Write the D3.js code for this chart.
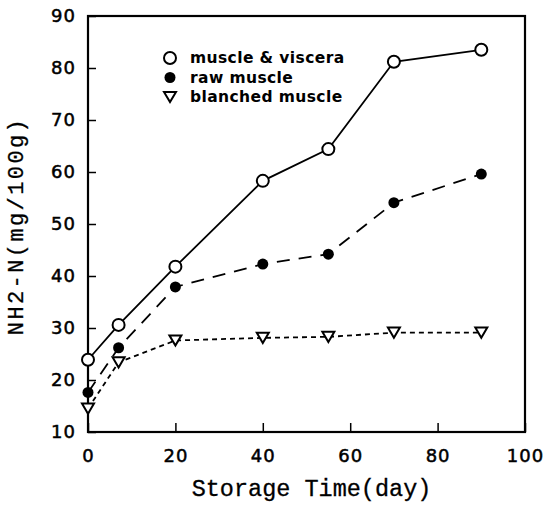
<!DOCTYPE html>
<html>
<head>
<meta charset="utf-8">
<script src="https://cdn.jsdelivr.net/npm/d3@7"></script>
<style>
  body { margin: 0; background: #fff; }
  svg { display: block; }
</style>
</head>
<body>
<div id="chart"></div>
<script>
        // storage days
        const days = [0, 7, 20, 40, 55, 70, 90];

        // NH2-N (mg/100g)
        const muscleViscera = [23.9, 30.6, 41.8, 58.3, 64.4, 81.2, 83.5];
        const rawMuscle = [17.6, 26.2, 37.9, 42.3, 44.2, 54.1, 59.6];
        const blanchedMuscle = [14.5, 23.4, 27.6, 28.1, 28.3, 29.1, 29.1];

        const xTicks = [0, 20, 40, 60, 80, 100];
        const yTicks = [10, 20, 30, 40, 50, 60, 70, 80, 90];
        const seriesNames = ["muscle & viscera", "raw muscle", "blanched muscle"];

        const width = 544;
        const height = 507;
        const margin = { top: 16, right: 19, bottom: 75, left: 88 };

        const svg = d3.select("#chart")
            .append("svg")
            .attr("width", width)
            .attr("height", height);

        const x = d3.scaleLinear()
            .domain([0, 100])
            .range([margin.left, width - margin.right]);

        const y = d3.scaleLinear()
            .domain([10, 90])
            .range([height - margin.bottom, margin.top]);

        const tickFont = "'DejaVu Sans', sans-serif";

        // inward ticks
        const xAxis = svg.append("g")
            .attr("transform", `translate(0,${height - margin.bottom})`)
            .call(d3.axisBottom(x).tickValues(xTicks).tickSize(-9).tickPadding(14));

        const yAxis = svg.append("g")
            .attr("transform", `translate(${margin.left},0)`)
            .call(d3.axisLeft(y).tickValues(yTicks).tickSize(-8).tickPadding(12));

        [xAxis, yAxis].forEach(g => {
            g.select(".domain").remove();
            g.selectAll(".tick line").attr("stroke", "#000").attr("stroke-width", 1.5);
            g.selectAll(".tick text")
                .attr("fill", "#000")
                .attr("stroke", "#000")
                .attr("stroke-width", 0.5)
                .style("font-family", tickFont)
                .style("font-size", "18px")
                .style("letter-spacing", "1px");
        });
        xAxis.selectAll(".tick text").attr("dy", "0.9em");

        // frame
        svg.append("rect")
            .attr("x", x(0))
            .attr("y", y(90))
            .attr("width", x(100) - x(0))
            .attr("height", y(10) - y(90))
            .attr("fill", "none")
            .attr("stroke", "#000")
            .attr("stroke-width", 2.2);

        const line = d3.line()
            .x(d => x(d[0]))
            .y(d => y(d[1]));

        const pairs = vals => days.map((d, i) => [d, vals[i]]);

        const series = [
            { values: muscleViscera, dash: null, marker: "open" },
            { values: rawMuscle, dash: "13,9", marker: "filled" },
            { values: blanchedMuscle, dash: "5,4", marker: "tri" }
        ];

        const triangle = (cx, cy, s) => {
            const h = s * 0.85;
            return `M${cx - s / 2},${cy - h / 2}L${cx + s / 2},${cy - h / 2}L${cx},${cy + h / 2}Z`;
        };

        function drawMarker(g, kind, cx, cy) {
            if (kind === "open") {
                g.append("circle").attr("cx", cx).attr("cy", cy).attr("r", 6)
                    .attr("fill", "#fff").attr("stroke", "#000").attr("stroke-width", 2);
            } else if (kind === "filled") {
                g.append("circle").attr("cx", cx).attr("cy", cy).attr("r", 5.5)
                    .attr("fill", "#000");
            } else {
                g.append("path").attr("d", triangle(cx, cy, 12))
                    .attr("fill", "#fff").attr("stroke", "#000").attr("stroke-width", 2);
            }
        }

        series.forEach(s => {
            svg.append("path")
                .datum(pairs(s.values))
                .attr("d", line)
                .attr("fill", "none")
                .attr("stroke", "#000")
                .attr("stroke-width", 1.8)
                .attr("stroke-dasharray", s.dash);
        });

        series.forEach(s => {
            const g = svg.append("g");
            pairs(s.values).forEach(p => drawMarker(g, s.marker, x(p[0]), y(p[1])));
        });

        // legend
        const legend = svg.append("g");
        seriesNames.forEach((name, i) => {
            const ly = 58 + i * 19.5;
            drawMarker(legend, series[i].marker, 170, ly);
            legend.append("text")
                .attr("x", 190)
                .attr("y", ly + 5)
                .style("font-family", "'DejaVu Sans', sans-serif")
                .style("font-weight", "bold")
                .style("font-size", "15.5px")
                .style("letter-spacing", "0.4px")
                .text(name);
        });

        // axis titles
        svg.append("text")
            .attr("x", (x(0) + x(100)) / 2 + 5)
            .attr("y", 496)
            .attr("text-anchor", "middle")
            .attr("stroke", "#000")
            .attr("stroke-width", 0.3)
            .style("font-family", "'Liberation Mono', monospace")
            .style("font-size", "23.5px")
            .text("Storage Time(day)");

        svg.append("text")
            .attr("transform", `translate(23,${(117 + 335) / 2}) rotate(-90)`)
            .attr("text-anchor", "middle")
            .attr("stroke", "#000")
            .attr("stroke-width", 0.3)
            .style("font-family", "'Liberation Mono', monospace")
            .style("font-size", "22px")
            .style("letter-spacing", "2.4px")
            .text("NH2-N(mg/100g)");
</script>
</body>
</html>
